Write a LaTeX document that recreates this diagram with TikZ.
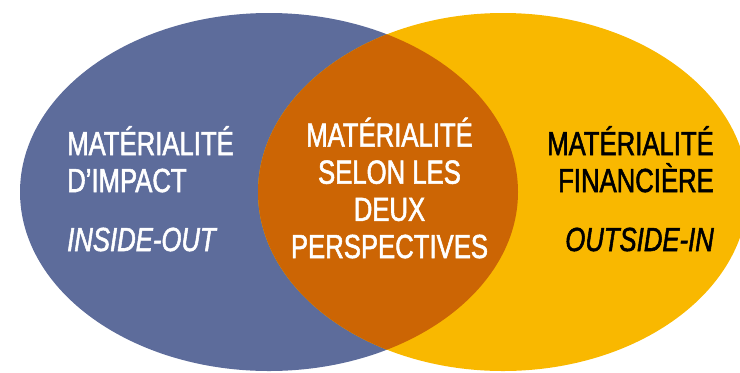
\documentclass[tikz,border=0pt]{standalone}
\usepackage{fontspec}
\setmainfont{Liberation Sans}[FakeStretch=0.77, FakeBold=1.6]
\usepackage{tikz}

\definecolor{impactblue}{RGB}{93,108,155}
\definecolor{finyellow}{RGB}{249,184,0}
\definecolor{bothorange}{RGB}{204,101,4}

\begin{document}
\begin{tikzpicture}[x=1bp, y=-1bp,
    label text/.style={inner sep=0, font=\fontsize{33.5}{37}\selectfont},
    both text/.style={inner sep=0, align=center, text=white, font=\fontsize{33.5}{37.3}\selectfont}]
    \useasboundingbox (0,0) rectangle (740,372);

    \begin{scope}
        \clip (0,0) rectangle (740,372);
        \fill[impactblue] (269,192) ellipse [x radius=249, y radius=179];
        \fill[finyellow] (503,192) ellipse [x radius=245, y radius=179];
        \clip (269,192) ellipse [x radius=249, y radius=179];
        \fill[bothorange] (503,192) ellipse [x radius=245, y radius=179];
    \end{scope}

    % base anchor sits on the last line
    \node[label text, align=left, text=white, anchor=base west] (impact) at (67,192) {
        MATÉRIALITÉ\\
        D’IMPACT
    };
    \node[label text, text=white, anchor=base west] (insideout) at (67,251) {\itshape INSIDE-OUT};

    \node[both text, anchor=base] (both) at (389.5,258) {
        MATÉRIALITÉ\\
        SELON LES\\
        DEUX\\
        PERSPECTIVES
    };

    \node[label text, align=right, anchor=base east] (finance) at (714,192) {
        MATÉRIALITÉ\\
        FINANCIÈRE
    };
    \node[label text, anchor=base east] (outsidein) at (714,251) {\itshape OUTSIDE-IN};
\end{tikzpicture}
\end{document}
